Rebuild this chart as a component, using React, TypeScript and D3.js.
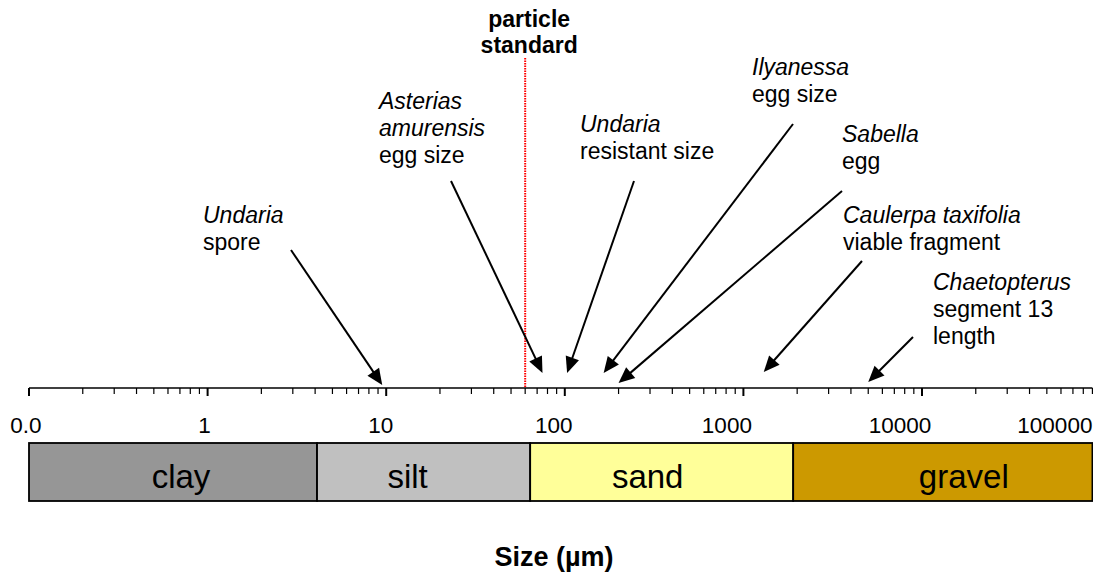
import React from 'react';
import { scaleLog } from 'd3';

// size classes (µm boundaries)
const classNames = ['clay', 'silt', 'sand', 'gravel'];
const classEdges = [0.1, 4.1, 64, 1900, 90000];
const classColors = ['#969696', '#c0c0c0', '#ffff99', '#cc9900'];

// axis labels
const tickValues = [0.1, 1, 10, 100, 1000, 10000, 100000];
const tickLabels = ['0.0', '1', '10', '100', '1000', '10000', '100000'];

const standardSize = 60;

// organism sizes pointed at by the arrows
const organismNames = ['Undaria', 'Asterias amurensis', 'Undaria', 'Ilyanessa', 'Sabella', 'Caulerpa taxifolia', 'Chaetopterus'];
const organismNotes = [['spore'], ['egg size'], ['resistant size'], ['egg size'], ['egg'], ['viable fragment'], ['segment 13', 'length']];
const organismSizes = [9.5, 75, 103, 165, 200, 1300, 5000];

// where each note sits (text origin, arrow tail, arrow tip height)
const noteLayout = [
	{ tx: 203, ty: 223, sx: 291, sy: 250, tipY: 385, split: false },
	{ tx: 379, ty: 109, sx: 451, sy: 181, tipY: 373, split: true },
	{ tx: 580, ty: 132, sx: 634, sy: 181, tipY: 373, split: false },
	{ tx: 752, ty: 75, sx: 793, sy: 124, tipY: 373, split: false },
	{ tx: 842, ty: 142, sx: 842, sy: 191, tipY: 383, split: false },
	{ tx: 843, ty: 223, sx: 862, sy: 261, tipY: 372, split: false },
	{ tx: 933, ty: 290, sx: 913, sy: 337, tipY: 382, split: false },
];
// class label text boxes are not quite centred in the original
const classLabelShift = [8, -16, -14, 21];

const width = 1093;
const height = 576;
const axisY = 388;
const barTop = 443;
const barBottom = 501;
const font = '"Liberation Sans", Arial, sans-serif';

function Arrow({ x1, y1, x2, y2 }) {
	const dx = x2 - x1;
	const dy = y2 - y1;
	const len = Math.sqrt(dx * dx + dy * dy);
	const ux = dx / len;
	const uy = dy / len;
	const head = 16;
	const half = 7;
	const bx = x2 - ux * head;
	const by = y2 - uy * head;
	const pts = [
		[x2, y2],
		[bx - uy * half, by + ux * half],
		[bx + uy * half, by - ux * half],
	];
	return (
		<g>
			<line x1={x1} y1={y1} x2={bx + ux * 2} y2={by + uy * 2} stroke="#000" strokeWidth={2} />
			<polygon points={pts.map((p) => p.join(',')).join(' ')} fill="#000" />
		</g>
	);
}

export default function App() {
	const x = scaleLog().domain([0.1, 100000]).range([29, 29 + 178.6 * 6]);
	const axisEnd = x(classEdges[classEdges.length - 1]);

	const allTicks = x.ticks().filter((t) => t <= 90000 * 1.0001);
	const isMajor = (t) => Math.abs(Math.log10(t) - Math.round(Math.log10(t))) < 1e-6;

	return (
		<svg
			width={width}
			height={height}
			style={{ position: 'absolute', left: 0, top: 0, background: '#fff' }}
			fontFamily={font}
		>
			{/* particle standard line */}
			<line
				x1={x(standardSize)}
				x2={x(standardSize)}
				y1={58}
				y2={axisY}
				stroke="#ff0000"
				strokeWidth={2}
				strokeDasharray="1.5,1"
			/>
			<text x={x(standardSize) + 4} y={27} textAnchor="middle" fontWeight="bold" fontSize={23}>
				particle
			</text>
			<text x={x(standardSize) + 4} y={53} textAnchor="middle" fontWeight="bold" fontSize={23}>
				standard
			</text>

			{/* axis */}
			<line x1={x(0.1)} x2={axisEnd} y1={axisY} y2={axisY} stroke="#000" strokeWidth={1.5} />
			{allTicks.map((t, i) => (
				<line
					key={i}
					x1={x(t)}
					x2={x(t)}
					y1={axisY}
					y2={axisY + (isMajor(t) ? 8 : 6)}
					stroke="#000"
					strokeWidth={isMajor(t) ? 2 : 1.2}
				/>
			))}
			{tickValues.map((v, i) => {
				const beyond = v > 90000;
				const shift = Math.max(3, (i - 1) * 5.5);
				return (
					<text
						key={v}
						x={beyond ? axisEnd : x(v) - shift}
						y={433}
						textAnchor={beyond ? 'end' : 'middle'}
						fontSize={22.5}
					>
						{tickLabels[i]}
					</text>
				);
			})}

			{/* size class bars */}
			{classNames.map((name, i) => {
				const x0 = x(classEdges[i]);
				const x1 = x(classEdges[i + 1]);
				return (
					<g key={name}>
						<rect
							x={x0}
							y={barTop}
							width={x1 - x0}
							height={barBottom - barTop}
							fill={classColors[i]}
							stroke="#000"
							strokeWidth={1.8}
						/>
						<text x={(x0 + x1) / 2 + classLabelShift[i]} y={488} textAnchor="middle" fontSize={33}>
							{name}
						</text>
					</g>
				);
			})}

			{/* organism notes */}
			{organismNames.map((name, i) => {
				const l = noteLayout[i];
				const lines = l.split ? name.split(' ') : [name];
				const notes = organismNotes[i];
				return (
					<g key={i}>
						{lines.map((s, j) => (
							<text key={'n' + j} x={l.tx} y={l.ty + j * 27} fontSize={23} fontStyle="italic">
								{s}
							</text>
						))}
						{notes.map((s, j) => (
							<text key={'t' + j} x={l.tx} y={l.ty + (lines.length + j) * 27} fontSize={23}>
								{s}
							</text>
						))}
						<Arrow x1={l.sx} y1={l.sy} x2={x(organismSizes[i])} y2={l.tipY} />
					</g>
				);
			})}

			{/* axis title */}
			<text x={554} y={566} textAnchor="middle" fontWeight="bold" fontSize={27}>
				Size (µm)
			</text>
		</svg>
	);
}
